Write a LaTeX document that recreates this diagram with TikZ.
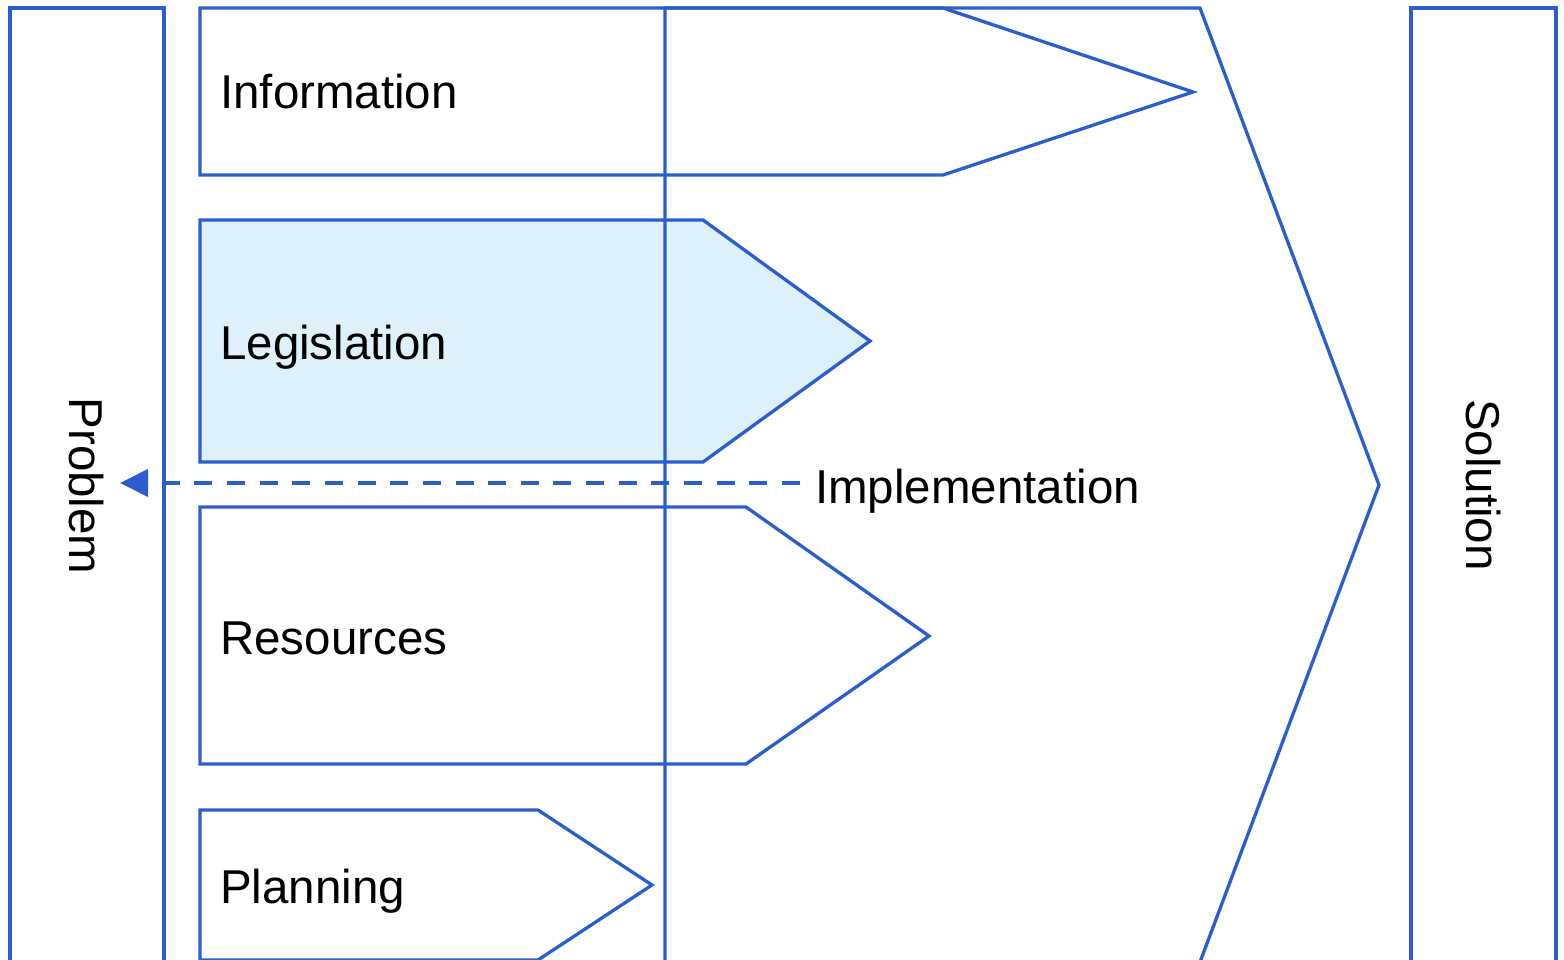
\documentclass[tikz,border=0pt]{standalone}
\usepackage{fontspec}
\setmainfont{Liberation Sans}
\usetikzlibrary{arrows.meta}
\definecolor{edgeblue}{RGB}{42,94,206}
\definecolor{lightfill}{RGB}{222,241,250}
\begin{document}
\begin{tikzpicture}[x=1pt,y=-1pt,
  shapeline/.style={draw=edgeblue,line width=3.3pt,line join=miter},
  lbl/.style={font=\fontsize{47.5}{52}\selectfont, inner sep=0pt, anchor=base west},
  sidelbl/.style={font=\fontsize{47.5}{52}\selectfont, inner sep=0pt, rotate=-90},
  dasharrow/.style={draw=edgeblue,line width=4pt,dash pattern=on 18pt off 14.65pt,-{Triangle[length=28pt,width=27pt]}}]
\useasboundingbox (0,0) rectangle (1564,960);
\fill[white] (0,0) rectangle (1564,960);
% side boxes
\draw[shapeline] (10,8) rectangle (164,964);
\draw[shapeline] (1411,8) rectangle (1556,964);
\node[sidelbl] (problem) at (86,486) {Problem};
\node[sidelbl] (solution) at (1483,485) {Solution};
% pentagons
\draw[shapeline] (200,8) -- (943,8) -- (1193,92) -- (943,175) -- (200,175) -- cycle;
\draw[shapeline,fill=lightfill] (200,220) -- (703,220) -- (870,341) -- (703,462) -- (200,462) -- cycle;
\draw[shapeline] (200,507) -- (746,507) -- (929,636) -- (746,764) -- (200,764) -- cycle;
\draw[shapeline] (200,810) -- (538,810) -- (652,885) -- (538,960) -- (200,960) -- cycle;
% big implementation arrow
\draw[shapeline] (665,964) -- (665,8) -- (1200,8) -- (1379,485) -- (1200,962);
% labels
\node[lbl] (info) at (220,109) {Information};
\node[lbl] (legis) at (220,359) {Legislation};
\node[lbl] (resources) at (220,654) {Resources};
\node[lbl] (planning) at (220,903) {Planning};
\node[lbl] (impl) at (815,503) {Implementation};
% dashed connector
\coordinate (arrowstart) at (800,483);
\coordinate (arrowtip) at (120,483);
\draw[dasharrow] (arrowstart) -- (arrowtip);
\end{tikzpicture}
\end{document}
